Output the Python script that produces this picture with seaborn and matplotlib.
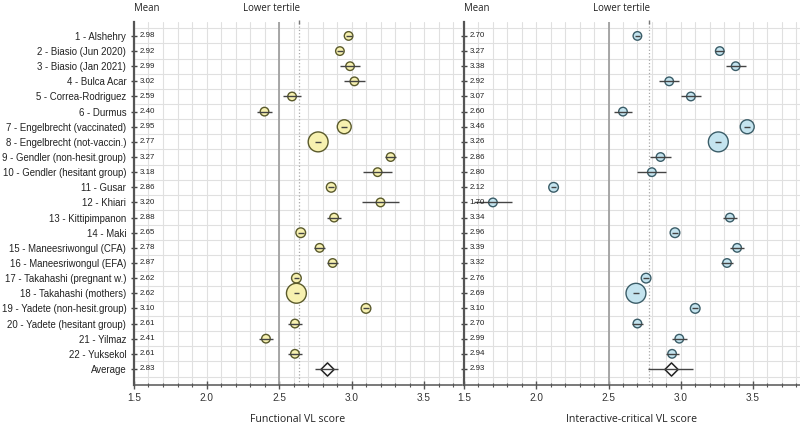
import numpy as np
import pandas as pd
import matplotlib
matplotlib.use("Agg")
import matplotlib.pyplot as plt
import matplotlib.transforms as mtransforms
from matplotlib.ticker import MultipleLocator, FormatStrFormatter
import seaborn as sns

# ---------------- data ----------------
studies = ["1 - Alshehry", "2 - Biasio (Jun 2020)", "3 - Biasio (Jan 2021)", "4 - Bulca Acar",
           "5 - Correa-Rodriguez", "6 - Durmus", "7 - Engelbrecht (vaccinated)",
           "8 - Engelbrecht (not-vaccin.)", "9 - Gendler (non-hesit.group)",
           "10 - Gendler (hesitant group)", "11 - Gusar", "12 - Khiari", "13 - Kittipimpanon",
           "14 - Maki", "15 - Maneesriwongul (CFA)", "16 - Maneesriwongul (EFA)",
           "17 - Takahashi (pregnant w.)", "18 - Takahashi (mothers)",
           "19 - Yadete (non-hesit.group)", "20 - Yadete (hesitant group)", "21 - Yilmaz",
           "22 - Yuksekol", "Average"]

func_mean = [2.98, 2.92, 2.99, 3.02, 2.59, 2.40, 2.95, 2.77, 3.27, 3.18, 2.86, 3.20, 2.88,
             2.65, 2.78, 2.87, 2.62, 2.62, 3.10, 2.61, 2.41, 2.61, 2.83]
func_ci = [0.02, 0.02, 0.07, 0.07, 0.065, 0.055, 0.02, 0.02, 0.04, 0.10, 0.02, 0.125, 0.05,
           0.02, 0.04, 0.04, 0.02, 0.02, 0.02, 0.05, 0.05, 0.05, 0.08]

inter_mean = [2.70, 3.27, 3.38, 2.92, 3.07, 2.60, 3.46, 3.26, 2.86, 2.80, 2.12, 1.70, 3.34,
              2.96, 3.39, 3.32, 2.76, 2.69, 3.10, 2.70, 2.99, 2.94, 2.93]
inter_ci = [0.02, 0.03, 0.07, 0.07, 0.07, 0.06, 0.02, 0.02, 0.07, 0.10, 0.02, 0.13, 0.05,
            0.02, 0.05, 0.04, 0.02, 0.02, 0.02, 0.04, 0.05, 0.045, 0.155]

# relative study weights (marker area)
weights = [1, 1, 1, 1, 1, 1, 4, 9, 1, 1, 1.5, 1, 1, 1.5, 1, 1, 1.5, 9, 1.5, 1, 1, 1]

func_lower_tertile = 2.64
inter_lower_tertile = 2.78
scale_mid = 2.5

# ---------------- plotting ----------------
sns.set_theme(style="white")
plt.rcParams['font.family'] = ['Liberation Sans', 'DejaVu Sans']

W, H = 800, 432
fig = plt.figure(figsize=(W / 100, H / 100), dpi=100)
top_px, bot_px = 22, 385
axL = fig.add_axes([134 / W, 1 - bot_px / H, 328 / W, (bot_px - top_px) / H])
axR = fig.add_axes([464 / W, 1 - bot_px / H, 336 / W, (bot_px - top_px) / H])

n = len(studies)
ypos = np.arange(n)


def panel(ax, means, cis, fill, edge, tertile, xlabel, xmax, show_names):
    ax.set_xlim(1.5, xmax)
    ax.set_ylim(n - 1 + 1.06, -0.92)

    # grid
    ax.xaxis.set_major_locator(MultipleLocator(0.5))
    ax.xaxis.set_minor_locator(MultipleLocator(0.1))
    ax.xaxis.set_major_formatter(FormatStrFormatter('%.1f'))
    ax.grid(which='both', axis='x', color='#e0e0e0', lw=0.8, zorder=0)
    ax.grid(False, axis='y')
    for yb in np.arange(-0.5, n, 1.0):
        ax.axhline(yb, color='#e0e0e0', lw=0.8, zorder=0)
    ax.axvline(scale_mid, color='#a0a0a0', lw=1.3, zorder=1)
    ax.axvline(tertile, color='#a8a8a8', lw=0.9, ls=':', zorder=1)
    ax.plot([tertile], [-0.92], marker='|', ms=3, color='#777', clip_on=False, zorder=5)

    df = pd.DataFrame({"mean": means[:-1], "y": ypos[:-1], "w": weights})
    sns.scatterplot(data=df, x="mean", y="y", size="w", sizes=(38, 205), size_norm=(1, 9),
                    color=fill, edgecolor=edge, linewidth=1.0, legend=False, ax=ax, zorder=3)
    ax.scatter([means[-1]], [ypos[-1]], marker='D', s=45, facecolor='white',
               edgecolor='#222', linewidth=1.1, zorder=3)
    ax.errorbar(means, ypos, xerr=cis, fmt='none', ecolor='#444', elinewidth=1.0,
                capsize=0, zorder=4)

    # spines
    for s in ['top', 'right']:
        ax.spines[s].set_visible(False)
    ax.spines['left'].set_color('#555')
    ax.spines['left'].set_linewidth(1.6)
    ax.spines['bottom'].set_color('#555')
    ax.spines['bottom'].set_linewidth(1.1)

    ax.set_yticks(ypos)
    if show_names:
        ax.set_yticklabels(studies)
    else:
        ax.set_yticklabels([])
    ax.tick_params(axis='y', which='major', direction='inout', length=5, width=1,
                   color='#444', labelsize=6.9, pad=3, labelcolor='#222', left=True)
    ax.tick_params(axis='x', which='major', direction='inout', length=6, width=1,
                   color='#555', labelsize=7.2, labelcolor='#333', pad=3, bottom=True)
    ax.tick_params(axis='x', which='minor', direction='inout', length=3.5, width=0.8,
                   color='#555', bottom=True)

    ax.set_xlabel(xlabel, fontsize=7.6, family=['Open Sans', 'DejaVu Sans'],
                  color='#222', labelpad=8)
    ax.set_ylabel("")

    trans = mtransforms.blended_transform_factory(ax.transAxes, ax.transData)
    offs = mtransforms.offset_copy(trans, fig=fig, x=4, y=0, units='points')
    for yy, m in zip(ypos, means):
        ax.text(0, yy, f"{m:.2f}", transform=offs, fontsize=5.7, va='center', ha='left',
                color='#222', zorder=6)

    ax.annotate("Mean", xy=(0, 1), xycoords='axes fraction', xytext=(9, 10),
                textcoords='offset points', ha='center', va='center', fontsize=6.9,
                family=['Open Sans', 'DejaVu Sans'], color='#222', annotation_clip=False)
    ax.annotate("Lower tertile", xy=(tertile, 1),
                xycoords=('data', 'axes fraction'), xytext=(-20, 10),
                textcoords='offset points', ha='center', va='center', fontsize=6.9,
                family=['Open Sans', 'DejaVu Sans'], color='#222', annotation_clip=False)


panel(axL, func_mean, func_ci, '#f7f1b0', '#5a5a2c', func_lower_tertile,
      "Functional VL score", 1.5 + 328 / 145, True)
panel(axR, inter_mean, inter_ci, '#c4e4ef', '#3b5d68', inter_lower_tertile,
      "Interactive-critical VL score", 1.5 + 336 / 144.5, False)

fig.savefig("out.png", dpi=100)
